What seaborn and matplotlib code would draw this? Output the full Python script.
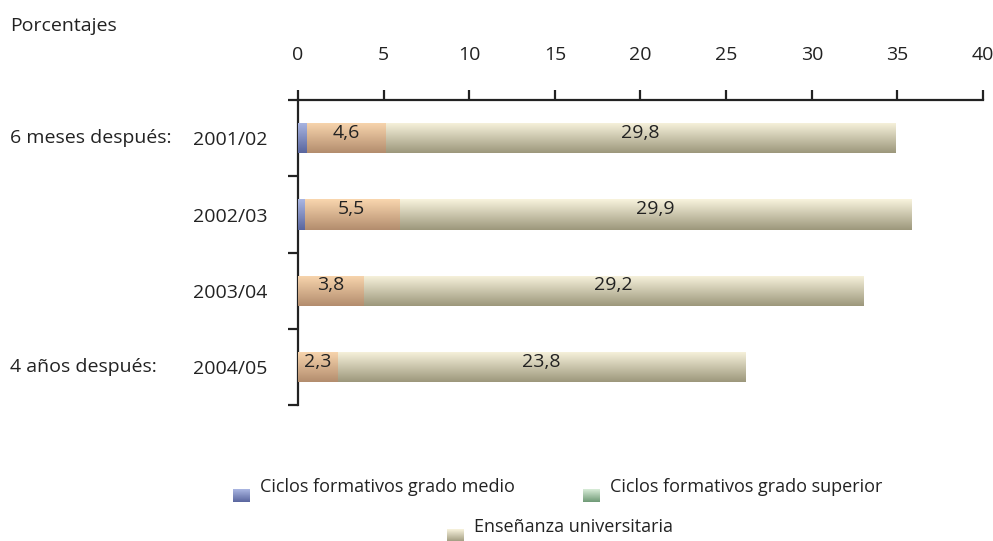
import numpy as np
import pandas as pd
import seaborn as sns
import matplotlib.pyplot as plt
from matplotlib.colors import LinearSegmentedColormap

sns.set_style('white')
plt.rcParams['font.family'] = ['Open Sans', 'DejaVu Sans']

# data
years = ['2001/02', '2002/03', '2003/04', '2004/05']
medio = [0.5, 0.4, 0.0, 0.0]
superior = [4.6, 5.5, 3.8, 2.3]
universidad = [29.8, 29.9, 29.2, 23.8]
groups = ['6 meses después:', '', '', '4 años después:']
xticks = [0, 5, 10, 15, 20, 25, 30, 35, 40]
legend_labels = ['Ciclos formativos grado medio', 'Ciclos formativos grado superior',
                 'Enseñanza universitaria']

df = pd.DataFrame({'year': years, 'medio': medio, 'superior': superior, 'univ': universidad})
df['c1'] = df['medio']
df['c2'] = df['medio'] + df['superior']
df['c3'] = df['c2'] + df['univ']

# gradients (top light -> bottom dark)
grad_blue = ('#aab6e2', '#5a669e')
grad_orange = ('#f9d6ae', '#b38d6e')
grad_beige = ('#f8f3dd', '#9d987c')
grad_green = ('#d8ecd8', '#6f9a76')

FS = 14
INK = '#222222'

fig = plt.figure(figsize=(9.93, 5.41), dpi=100)
ax = fig.add_axes([0.3, 0.251, 0.69, 0.564])

layers = [('c3', grad_beige), ('c2', grad_orange), ('c1', grad_blue)]
for col, g in layers:
    sns.barplot(data=df, x=col, y='year', orient='h', color=g[0], width=0.4,
                ax=ax, linewidth=0, saturation=1)

# put a vertical gradient on every bar
grad = np.linspace(0, 1, 64).reshape(-1, 1)
n = len(years)
for i, p in enumerate(ax.patches):
    g = layers[i // n][1]
    cmap = LinearSegmentedColormap.from_list('g', [g[0], g[1]])
    x0, y0 = p.get_x(), p.get_y()
    w, h = p.get_width(), p.get_height()
    if w <= 0:
        continue
    im = ax.imshow(grad, cmap=cmap, aspect='auto', extent=[x0, x0 + w, y0 + h, y0],
                   zorder=2 + i // n, interpolation='bilinear')
    im.set_clip_path(p)

# value labels
for i in range(n):
    ax.text(medio[i] + superior[i] / 2, i - 0.07, f'{superior[i]:.1f}'.replace('.', ','),
            ha='center', va='center', fontsize=FS, color=INK, zorder=10)
    ax.text(df['c2'][i] + universidad[i] / 2, i - 0.07, f'{universidad[i]:.1f}'.replace('.', ','),
            ha='center', va='center', fontsize=FS, color=INK, zorder=10)

ax.set_xlim(0, 40)
ax.set_ylim(3.5, -0.5)
ax.set_xticks(xticks)
ax.tick_params(axis='x', top=True, bottom=False, labeltop=True, labelbottom=False,
               direction='out', length=7, width=1.6, pad=19,
               labelsize=FS, colors=INK)
ax.set_yticks(range(n))
ax.set_yticklabels(years)
ax.set_yticks([-0.5, 0.5, 1.5, 2.5, 3.5], minor=True)
ax.tick_params(axis='y', which='major', left=False, length=0, pad=22, labelsize=FS, colors=INK)
ax.tick_params(axis='y', which='minor', left=True, direction='out', length=7, width=1.6, color=INK)
ax.set_xlabel('')
ax.set_ylabel('')
for s in ['right', 'bottom']:
    ax.spines[s].set_visible(False)
for s in ['top', 'left']:
    ax.spines[s].set_linewidth(1.6)
    ax.spines[s].set_color(INK)

fig.text(10 / 993, 1 - 26 / 541, 'Porcentajes', fontsize=FS, color=INK, va='center')
# group labels at the far left, aligned with their rows
for i, gname in enumerate(groups):
    if gname:
        ax.annotate(gname, xy=(10 / 993, i), xycoords=('figure fraction', 'data'),
                    fontsize=FS, color=INK, va='center', ha='left', annotation_clip=False)

# legend built by hand (irregular layout in the reference)
def legend_item(xpx, ypx, g, label):
    lax = fig.add_axes([xpx / 993, 1 - (ypx + 13) / 541, 17 / 993, 13 / 541])
    cmap = LinearSegmentedColormap.from_list('g', [g[0], g[1]])
    lax.imshow(grad, cmap=cmap, aspect='auto', interpolation='bilinear')
    lax.axis('off')
    fig.text((xpx + 27) / 993, 1 - (ypx - 2) / 541, label, fontsize=13,
             color=INK, va='center', ha='left')

legend_item(233, 489, grad_blue, legend_labels[0])
legend_item(583, 489, grad_green, legend_labels[1])
legend_item(447, 529, grad_beige, legend_labels[2])

fig.savefig('out.png', dpi=100)
